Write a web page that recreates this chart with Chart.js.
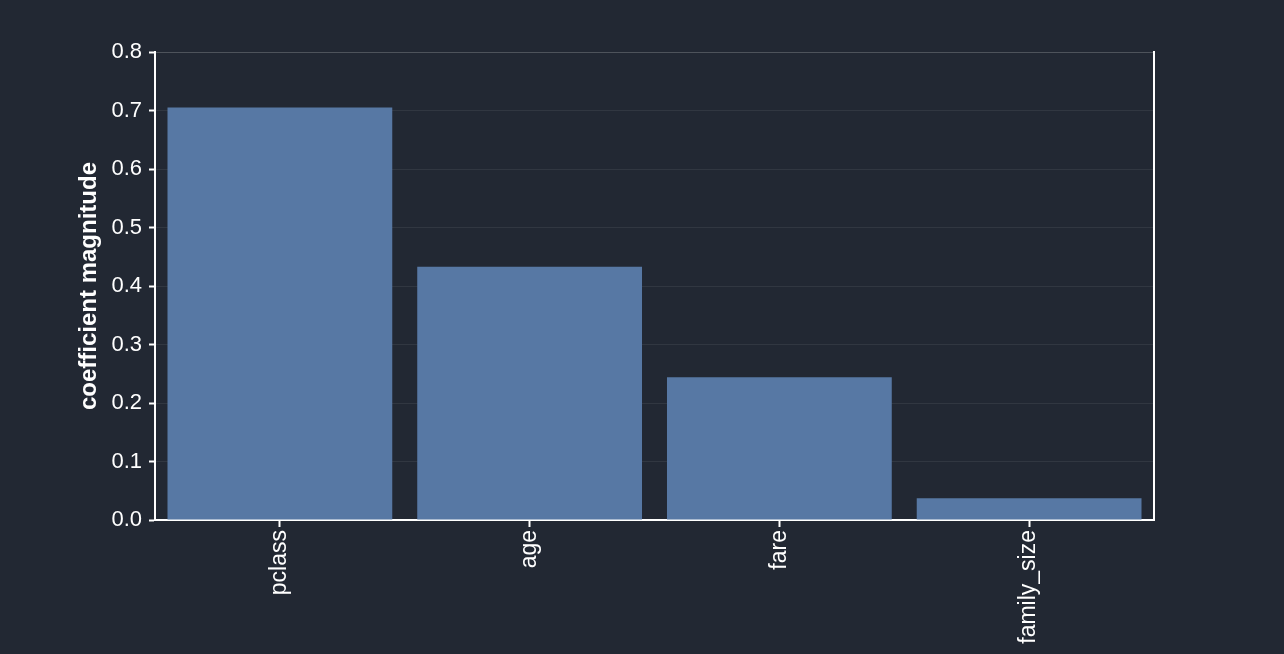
<!DOCTYPE html>
<html>
<head>
<meta charset="utf-8">
<script src="https://cdn.jsdelivr.net/npm/chart.js@4/dist/chart.umd.min.js"></script>
<style>
  html, body { margin: 0; padding: 0; background: #222833; }
  #wrap { width: 1284px; height: 654px; }
</style>
</head>
<body>
<div id="wrap"><canvas id="c" width="1284" height="654"></canvas></div>
<script>
const categories = ["pclass", "age", "fare", "family_size"];
const magnitudes = [0.705, 0.433, 0.244, 0.037];
const yTicks = [0.0, 0.1, 0.2, 0.3, 0.4, 0.5, 0.6, 0.7, 0.8];
const yTitle = "coefficient magnitude";

const FONT = "'Liberation Sans', Arial, Helvetica, sans-serif";

new Chart(document.getElementById('c'), {
  type: 'bar',
  data: {
    labels: categories,
    datasets: [{
      data: magnitudes,
      backgroundColor: '#5778a4',
      borderWidth: 0,
      categoryPercentage: 1.0,
      barPercentage: 0.9
    }]
  },
  options: {
    responsive: false,
    animation: false,
    devicePixelRatio: 1,
    layout: { padding: { left: 0, right: 130, top: 52, bottom: 0 } },
    plugins: { legend: { display: false }, tooltip: { enabled: false } },
    scales: {
      x: {
        grid: { offset: false, drawOnChartArea: false, drawTicks: true, tickLength: 7, tickColor: '#ffffff', tickWidth: 2 },
        border: { color: '#ffffff', width: 2 },
        ticks: { color: '#ffffff', font: { family: FONT, size: 23 }, maxRotation: 90, minRotation: 90, padding: 3 },
        afterFit: s => { s.height = 134; }
      },
      y: {
        min: 0, max: 0.8,
        afterBuildTicks: s => { s.ticks = yTicks.map(v => ({ value: v })); },
        grid: {
          color: ctx => (ctx.tick && ctx.tick.value === 0.8) ? 'rgba(255,255,255,0.2)' : 'rgba(255,255,255,0.07)',
          tickColor: '#ffffff', tickLength: 6, tickWidth: 2
        },
        border: { color: '#ffffff', width: 2 },
        ticks: { color: '#ffffff', font: { family: FONT, size: 22 }, padding: 7, callback: v => Number(v).toFixed(1) },
        title: { display: true, text: yTitle, color: '#ffffff', font: { family: FONT, size: 24, weight: 'bold' }, padding: { top: 75, bottom: 0 } },
        afterFit: s => { s.width = 155; }
      },
      y2: {
        position: 'right',
        min: 0, max: 0.8,
        grid: { display: false, drawTicks: false },
        border: { display: true, color: '#ffffff', width: 2 },
        ticks: { display: false },
        afterFit: s => { s.width = 0; }
      }
    }
  }
});
</script>
</body>
</html>
